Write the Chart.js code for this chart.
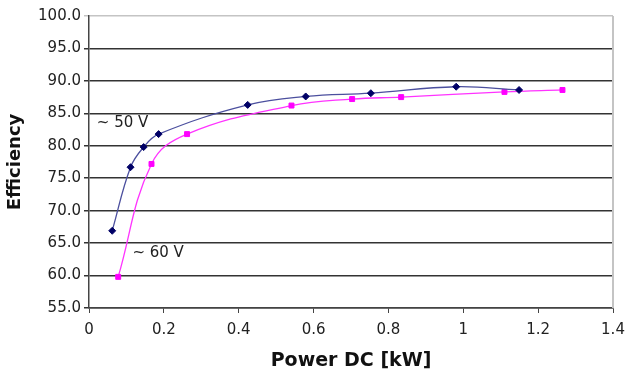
<!DOCTYPE html>
<html>
<head>
<meta charset="utf-8">
<script src="https://cdn.jsdelivr.net/npm/chart.js@4"></script>
<style>
  body { margin: 0; background: #fff; }
  #wrap { width: 629px; height: 376px; }
</style>
</head>
<body>
<div id="wrap"><canvas id="effChart"></canvas></div>
<script>
// Data
const xTicks = [0, 0.2, 0.4, 0.6, 0.8, 1, 1.2, 1.4];
const yTicks = [55, 60, 65, 70, 75, 80, 85, 90, 95, 100];

// ~50 V series
const power50 = [0.062, 0.111, 0.146, 0.186, 0.424, 0.579, 0.753, 0.981, 1.149];
const eff50 = [66.9, 76.7, 79.8, 81.8, 86.3, 87.6, 88.1, 89.1, 88.6];

// ~60 V series
const power60 = [0.078, 0.167, 0.262, 0.541, 0.703, 0.834, 1.110, 1.265];
const eff60 = [59.8, 77.2, 81.8, 86.2, 87.2, 87.5, 88.3, 88.6];

const seriesNames = ['~ 50 V', '~ 60 V'];

const toPoints = (xs, ys) => xs.map((x, i) => ({ x: x, y: ys[i] }));

// Text labels next to the curves, plus the light grey right border
const extras = {
    id: 'extras',
    afterDraw(chart) {
        const { ctx, chartArea, scales } = chart;
        ctx.save();
        ctx.strokeStyle = '#c4c4c4';
        ctx.lineWidth = 2;
        ctx.beginPath();
        ctx.moveTo(chartArea.right, chartArea.top);
        ctx.lineTo(chartArea.right, chartArea.bottom);
        ctx.stroke();

        ctx.fillStyle = '#222';
        ctx.font = '15px "DejaVu Sans"';
        ctx.textAlign = 'left';
        ctx.textBaseline = 'middle';
        ctx.fillText(seriesNames[0], scales.x.getPixelForValue(0.021), scales.y.getPixelForValue(83.5));
        ctx.fillText(seriesNames[1], scales.x.getPixelForValue(0.116), scales.y.getPixelForValue(63.4));
        ctx.restore();
    }
};

const chartConfig = {
    type: 'line',
    data: {
        datasets: [{
            label: seriesNames[0],
            data: toPoints(power50, eff50),
            borderColor: '#4b4f9e',
            borderWidth: 1.3,
            pointStyle: 'rectRot',
            pointRadius: 3.5,
            pointBackgroundColor: '#000066',
            pointBorderColor: '#000066',
            pointBorderWidth: 1,
            tension: 0.4
        }, {
            label: seriesNames[1],
            data: toPoints(power60, eff60),
            borderColor: '#ff33ff',
            borderWidth: 1.3,
            pointStyle: 'rect',
            pointRadius: 3.5,
            pointBackgroundColor: '#ff00ff',
            pointBorderColor: '#ff00ff',
            pointBorderWidth: 1,
            tension: 0.4
        }]
    },
    options: {
        responsive: true,
        maintainAspectRatio: false,
        animation: false,
        layout: { padding: { top: 16, right: 16, left: 0, bottom: 0 } },
        plugins: {
            legend: { display: false },
            tooltip: { enabled: false }
        },
        scales: {
            x: {
                type: 'linear',
                min: 0,
                max: 1.4,
                afterBuildTicks: scale => { scale.ticks = xTicks.map(v => ({ value: v })); },
                afterFit: scale => {
                    scale.height = 68;
                    scale.paddingRight = 0;
                    scale.paddingLeft = 0;
                },
                grid: {
                    drawOnChartArea: false,
                    drawTicks: true,
                    tickLength: 5,
                    color: '#444'
                },
                border: { display: true, color: '#444', width: 1.5 },
                ticks: {
                    padding: 8,
                    color: '#222',
                    font: { family: 'DejaVu Sans', size: 15 },
                    callback: v => String(Number(v.toFixed(1)))
                },
                title: {
                    display: true,
                    text: 'Power DC [kW]',
                    color: '#111',
                    padding: { top: 0, bottom: 4 },
                    font: { family: 'DejaVu Sans', size: 19, weight: 'bold' }
                }
            },
            y: {
                min: 55,
                max: 100,
                afterBuildTicks: scale => { scale.ticks = yTicks.map(v => ({ value: v })); },
                afterFit: scale => { scale.width = 89; },
                grid: {
                    drawTicks: true,
                    tickLength: 5,
                    lineWidth: 1.5,
                    color: ctx => (ctx.tick && ctx.tick.value === 100) ? '#c4c4c4' : '#333'
                },
                border: { display: true, color: '#444', width: 1.5 },
                ticks: {
                    padding: 3,
                    color: '#222',
                    font: { family: 'DejaVu Sans', size: 15 },
                    callback: v => v.toFixed(1)
                },
                title: {
                    display: true,
                    text: 'Efficiency',
                    color: '#111',
                    padding: { top: 5, bottom: 0 },
                    font: { family: 'DejaVu Sans', size: 18, weight: 'bold' }
                }
            }
        }
    },
    plugins: [extras]
};

new Chart(document.getElementById('effChart'), chartConfig);
</script>
</body>
</html>
